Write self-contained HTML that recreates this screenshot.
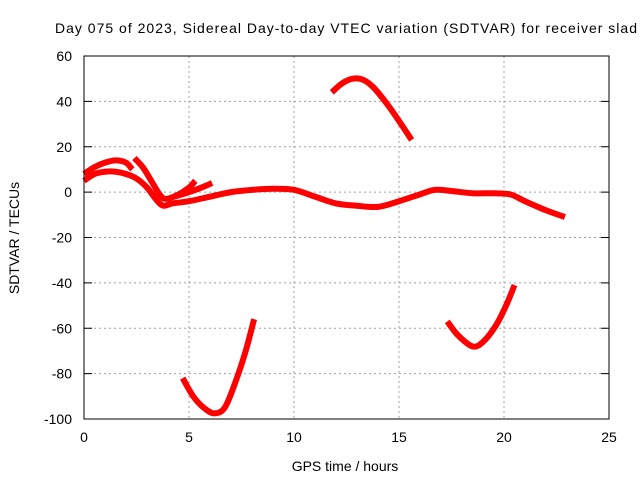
<!DOCTYPE html>
<html><head><meta charset="utf-8"><style>
body{margin:0;background:#fff;}
svg{display:block;font-family:"Liberation Sans",sans-serif;}
</style></head><body>
<svg id="chart" width="640" height="480">
<text x="55" y="33" font-size="14" textLength="582" lengthAdjust="spacing">Day 075 of 2023, Sidereal Day-to-day VTEC variation (SDTVAR) for receiver slad</text>
<text x="345" y="471" font-size="14" text-anchor="middle">GPS time / hours</text>
<text x="19" y="238" font-size="14" text-anchor="middle" transform="rotate(-90 19 238)">SDTVAR / TECUs</text>
<g id="grid"></g><g id="ticks"></g><g id="series"></g>
<rect x="84" y="56" width="525" height="363" fill="none" stroke="#000" stroke-width="1"/>
</svg>
<script>
const xTicks=[0,5,10,15,20,25];
const yTicks=[60,40,20,0,-20,-40,-60,-80,-100];
const s1x=[0,0.5,1,1.5,2,2.5,3,3.5,3.8,4.2,5,6,7,8,9,10,11,12,13,14,15,16,16.7,17.5,18.5,19.5,20.3,21,22,22.9];
const s1y=[5,8,9,9,8,6,2,-4,-6,-5,-4,-2,0,1,1.5,1,-2,-5,-6,-6.5,-4,-1,1,0.5,-0.5,-0.5,-1,-4,-8,-11];
const s2x=[0,0.5,1,1.5,2,2.3];
const s2y=[8,11,13,14,13,10];
const s3x=[2.4,2.8,3.2,3.6,3.9,4.5,5,5.3];
const s3y=[15,11,5,-1,-3,-1,2,5];
const s4x=[4.3,5,5.6,6.1];
const s4y=[-2,0,2,4];
const s5x=[11.8,12.3,12.8,13.3,13.8,14.5,15.1,15.6];
const s5y=[44,48,50,49.5,46,38,30,23];
const s6x=[4.7,5.2,5.7,6.2,6.7,7.2,7.7,8.1];
const s6y=[-82,-90,-95,-97.5,-95,-84,-70,-56];
const s7x=[17.3,17.8,18.5,19,19.6,20.1,20.5];
const s7y=[-57,-63,-68,-66,-59,-50,-41];
const X=v=>84+v*21, Y=v=>56+(60-v)*363/160;
const NS="http://www.w3.org/2000/svg";
const g=document.getElementById('grid'),t=document.getElementById('ticks'),s=document.getElementById('series');
function mk(tag,a,p){const e=document.createElementNS(NS,tag);for(const k in a)e.setAttribute(k,a[k]);p.appendChild(e);return e;}
xTicks.forEach(v=>{
 if(v>0&&v<25){const l=mk('line',{x1:X(v),x2:X(v),y1:56,y2:419,stroke:'#a0a0a0','stroke-dasharray':'2,3'},g);
 
 }
 const tx=mk('text',{x:X(v),y:442,'font-size':14,'text-anchor':'middle'},t);tx.textContent=v;
 
 
});
yTicks.forEach(v=>{
 if(v<60&&v>-100){const l=mk('line',{x1:84,x2:609,y1:Y(v),y2:Y(v),stroke:'#a0a0a0','stroke-dasharray':'2,3'},g);
 
 }
 mk('line',{x1:84,x2:92,y1:Y(v),y2:Y(v),stroke:'#000'},t);
 mk('line',{x1:601,x2:609,y1:Y(v),y2:Y(v),stroke:'#000'},t);
 const tx=mk('text',{x:72,y:Y(v)+5,'font-size':14,'text-anchor':'end'},t);tx.textContent=v;
 
 
});
function smooth(xs,ys){
 const P=xs.map((x,j)=>[X(x),Y(ys[j])]);
 let d='M'+P[0][0]+','+P[0][1];
 for(let i=0;i<P.length-1;i++){
  const p0=P[Math.max(i-1,0)],p1=P[i],p2=P[i+1],p3=P[Math.min(i+2,P.length-1)];
  const c1=[p1[0]+(p2[0]-p0[0])/6,p1[1]+(p2[1]-p0[1])/6];
  const c2=[p2[0]-(p3[0]-p1[0])/6,p2[1]-(p3[1]-p1[1])/6];
  d+=' C'+c1[0]+','+c1[1]+' '+c2[0]+','+c2[1]+' '+p2[0]+','+p2[1];
 }
 return d;
}
[[s1x,s1y],[s2x,s2y],[s3x,s3y],[s4x,s4y],[s5x,s5y],[s6x,s6y],[s7x,s7y]].forEach((d,i)=>{
 const p=mk('path',{d:smooth(d[0],d[1]),fill:'none',stroke:'#ff0000','stroke-width':6,'stroke-linejoin':'round','stroke-linecap':'butt'},s);
 
 
});
</script>
</body></html>
